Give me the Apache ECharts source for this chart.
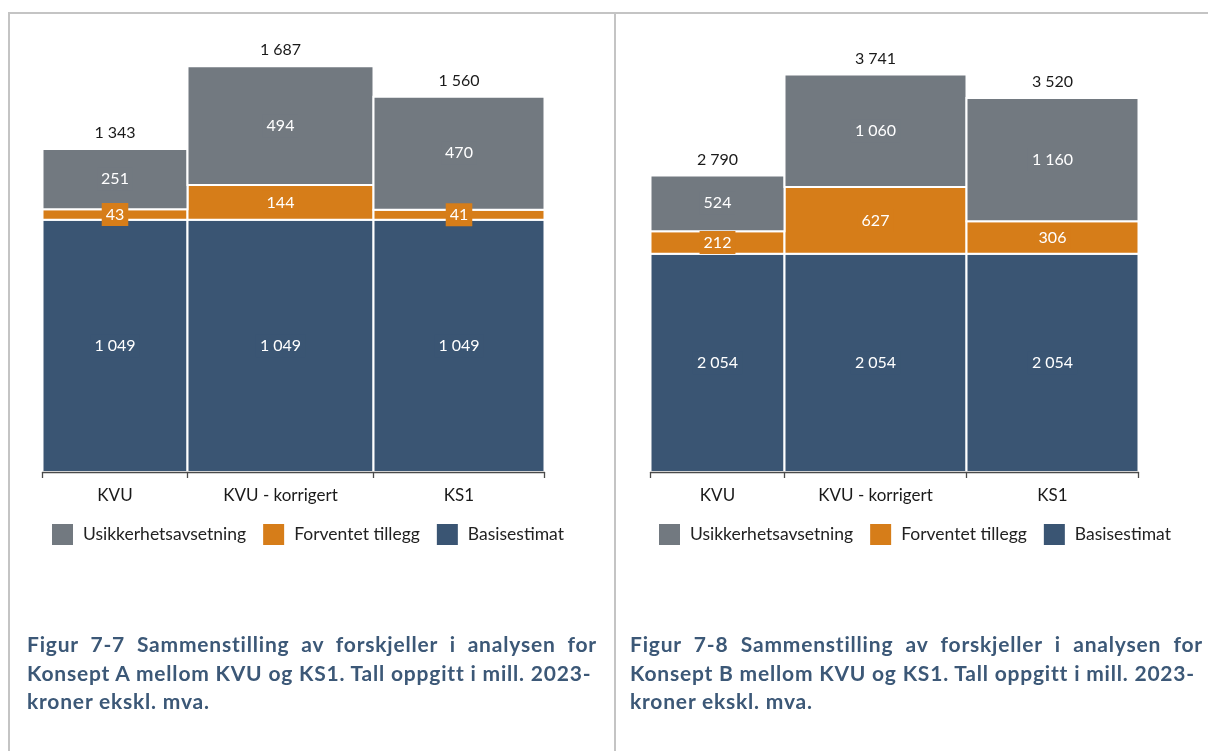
<!DOCTYPE html>
<html lang="no">
<head>
<meta charset="utf-8">
<title>Sammenstilling av forskjeller – Konsept A og B</title>
<script src="https://cdn.jsdelivr.net/npm/echarts@6/dist/echarts.min.js"></script>
<style>
  html, body { margin: 0; padding: 0; background: #fff; }
  #wrap { position: relative; width: 1208px; height: 751px; overflow: hidden; }
  #chart { position: absolute; left: 0; top: 0; width: 1208px; height: 751px; }
  .cap { position: absolute; font-family: Lato, "Open Sans", sans-serif; font-weight: 700;
         font-size: 21px; letter-spacing: 0.8px; line-height: 28.5px; color: #3c5877; white-space: nowrap; }
  .cap .j { text-align: justify; text-align-last: justify; }
</style>
</head>
<body>
<div id="wrap">
  <div id="chart"></div>
  <div class="cap" id="capA" style="left:27px; top:630px; width:570px;"></div>
  <div class="cap" id="capB" style="left:630px; top:630px; width:573px;"></div>
</div>
<script>
// Categories and series names
const categories = ['KVU', 'KVU - korrigert', 'KS1'];
const seriesNames = ['Usikkerhetsavsetning', 'Forventet tillegg', 'Basisestimat'];

// Konsept A (mill. 2023-kroner)
const basisA = [1049, 1049, 1049];
const tilleggA = [43, 144, 41];
const usikkerhetA = [251, 494, 470];
const totalA = [1343, 1687, 1560];

// Konsept B (mill. 2023-kroner)
const basisB = [2054, 2054, 2054];
const tilleggB = [212, 627, 306];
const usikkerhetB = [524, 1060, 1160];
const totalB = [2790, 3741, 3520];

// Figure captions
const captionA = ['Figur 7-7 Sammenstilling av forskjeller i analysen for',
                  'Konsept A mellom KVU og KS1. Tall oppgitt i mill. 2023-',
                  'kroner ekskl. mva.'];
const captionB = ['Figur 7-8 Sammenstilling av forskjeller i analysen for',
                  'Konsept B mellom KVU og KS1. Tall oppgitt i mill. 2023-',
                  'kroner ekskl. mva.'];

// Styling
const COLORS = { usikkerhet: '#727980', tillegg: '#d67d19', basis: '#3a5573' };
const FONT = 'Lato, "Open Sans", sans-serif';

// Panel layout: grid box, y-axis ceiling, relative column widths
const PANELS = [
  { grid: { left: 42.5, top: 15, width: 502, height: 457 }, yMax: 1900, weights: [145, 186, 171], legendLeft: 47,
    basis: basisA, tillegg: tilleggA, usikkerhet: usikkerhetA, total: totalA },
  { grid: { left: 650.5, top: 15, width: 488, height: 457 }, yMax: 4300, weights: [134, 182, 172], legendLeft: 654,
    basis: basisB, tillegg: tilleggB, usikkerhet: usikkerhetB, total: totalB }
];

const fmt = v => String(Math.round(v)).replace(/\B(?=(\d{3})+(?!\d))/g, ' ');

function edgesOf(weights) {
  const e = [0];
  weights.forEach(w => e.push(e[e.length - 1] + w));
  return e;
}

function segmentRenderer(edges, color) {
  return function (params, api) {
    const i = api.value(0), lo = api.value(1), hi = api.value(2);
    const pBL = api.coord([edges[i], lo]);
    const pTR = api.coord([edges[i + 1], hi]);
    const x = pBL[0], y = pTR[1], w = pTR[0] - pBL[0], h = pBL[1] - pTR[1];
    return {
      type: 'group',
      children: [
        { type: 'rect', z2: 1, shape: { x, y, width: w, height: h },
          style: { fill: color, stroke: '#ffffff', lineWidth: 2 } },
        { type: 'text', z2: 50, x: x + w / 2, y: y + h / 2,
          style: { text: fmt(hi - lo), fill: '#ffffff', fontSize: 16, fontFamily: FONT,
                   align: 'center', verticalAlign: 'middle',
                   backgroundColor: color, padding: [4, 4, 3, 4] } }
      ]
    };
  };
}

function totalRenderer(edges) {
  return function (params, api) {
    const i = api.value(0);
    const p = api.coord([(edges[i] + edges[i + 1]) / 2, api.value(1)]);
    return { type: 'text', z2: 50, x: p[0], y: p[1] - 8,
             style: { text: fmt(api.value(1)), fill: '#1a1a1a', fontSize: 16, fontFamily: FONT,
                      align: 'center', verticalAlign: 'bottom' } };
  };
}

const option = {
  animation: false,
  grid: [], xAxis: [], yAxis: [], series: [], legend: [],
  graphic: [
    { type: 'line', shape: { x1: 8, y1: 13, x2: 1208, y2: 13 }, style: { stroke: '#c4c4c4', lineWidth: 2 } },
    { type: 'line', shape: { x1: 9, y1: 13, x2: 9, y2: 751 }, style: { stroke: '#c4c4c4', lineWidth: 2 } },
    { type: 'line', shape: { x1: 615, y1: 13, x2: 615, y2: 751 }, style: { stroke: '#c4c4c4', lineWidth: 2 } }
  ]
};

PANELS.forEach((P, g) => {
  const edges = edgesOf(P.weights);
  const centers = P.weights.map((w, i) => (edges[i] + edges[i + 1]) / 2);

  option.grid.push(Object.assign({ containLabel: false }, P.grid));
  option.xAxis.push({
    type: 'value', gridIndex: g, min: 0, max: edges[edges.length - 1], z: 10,
    splitLine: { show: false },
    axisLine: { show: true, lineStyle: { color: '#4a4a4a', width: 1.3 } },
    axisTick: { show: true, customValues: edges, length: 6, lineStyle: { color: '#4a4a4a', width: 1.3 } },
    axisLabel: { show: true, customValues: centers, margin: 15, color: '#1a1a1a', fontSize: 17, fontFamily: FONT,
                 formatter: v => categories[centers.findIndex(c => Math.abs(c - v) < 0.01)] }
  });
  option.yAxis.push({ type: 'value', gridIndex: g, min: 0, max: P.yMax, show: false, splitLine: { show: false } });

  // stacked segments, bottom to top
  const stacks = [
    { name: seriesNames[2], vals: P.basis, color: COLORS.basis },
    { name: seriesNames[1], vals: P.tillegg, color: COLORS.tillegg },
    { name: seriesNames[0], vals: P.usikkerhet, color: COLORS.usikkerhet }
  ];
  const base = categories.map(() => 0);
  stacks.forEach(s => {
    const data = s.vals.map((v, i) => { const d = [i, base[i], base[i] + v]; base[i] += v; return d; });
    option.series.push({
      type: 'custom', name: s.name, xAxisIndex: g, yAxisIndex: g,
      itemStyle: { color: s.color },
      encode: { x: 0, y: [1, 2] },
      renderItem: segmentRenderer(edges, s.color),
      data
    });
  });
  option.series.push({
    type: 'custom', name: 'Sum', xAxisIndex: g, yAxisIndex: g,
    encode: { x: 0, y: 1 },
    renderItem: totalRenderer(edges),
    data: P.total.map((v, i) => [i, v])
  });

  option.legend.push({
    data: seriesNames, left: P.legendLeft, top: 519, orient: 'horizontal',
    icon: 'rect', itemWidth: 21, itemHeight: 21, itemGap: 17, selectedMode: false,
    textStyle: { fontSize: 17.5, color: '#222', fontFamily: FONT, padding: [0, 0, 0, 5] }
  });
});

const chart = echarts.init(document.getElementById('chart'), null, { renderer: 'canvas' });
chart.setOption(option);

function fillCaption(el, lines) {
  lines.forEach((t, i) => {
    const d = document.createElement('div');
    if (i === 0) d.className = 'j';
    d.textContent = t;
    el.appendChild(d);
  });
}
fillCaption(document.getElementById('capA'), captionA);
fillCaption(document.getElementById('capB'), captionB);
</script>
</body>
</html>
